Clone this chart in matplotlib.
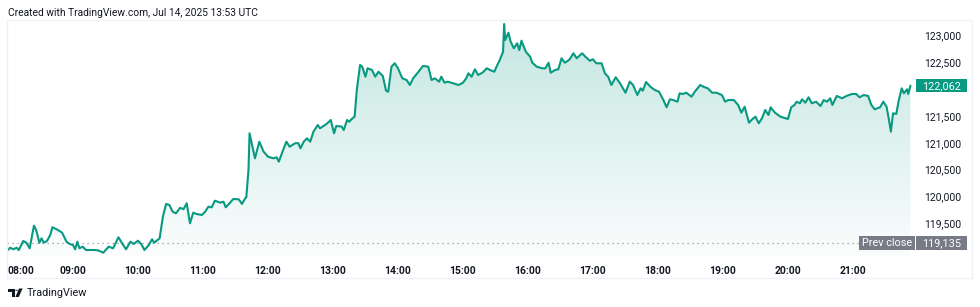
import numpy as np
import matplotlib
matplotlib.use("Agg")
import matplotlib.pyplot as plt
from matplotlib.colors import LinearSegmentedColormap
from matplotlib.patches import Rectangle, Polygon, Circle
from matplotlib.transforms import blended_transform_factory

plt.rcParams["font.family"] = ["Roboto", "DejaVu Sans"]

# minutes after 08:00 local time (UTC+8); last point is 21:53
minutes = [
    0, 2, 5, 8, 10, 14, 17, 20, 24, 26, 29, 31, 33, 36, 39, 41, 45, 50, 54, 57,
    60, 62, 64, 66, 69, 72, 79, 83, 88, 93, 97, 102, 105, 109, 113, 116, 120, 123, 126, 130,
    133, 135, 140, 143, 146, 149, 152, 155, 159, 162, 165, 168, 171, 174, 179, 182, 185, 188, 191, 196,
    199, 201, 205, 208, 213, 216, 219, 220, 222, 223, 226, 228, 232, 236, 240, 245, 248, 250, 254, 257,
    260, 265, 268, 270, 273, 276, 279, 282, 286, 288, 294, 298, 301, 303, 308, 310, 313, 315, 318, 320,
    322, 325, 327, 330, 332, 336, 339, 342, 346, 349, 351, 354, 357, 360, 364, 368, 371, 374, 379, 383,
    388, 391, 394, 398, 400, 403, 406, 411, 416, 420, 423, 425, 428, 431, 434, 438, 442, 445, 449, 451,
    454, 457, 458, 459, 462, 464, 467, 470, 472, 474, 478, 482, 484, 488, 493, 496, 499, 501, 505, 508,
    511, 514, 518, 522, 525, 530, 533, 537, 540, 543, 548, 551, 554, 557, 561, 565, 570, 574, 577, 581,
    584, 586, 589, 593, 597, 601, 605, 608, 611, 614, 618, 620, 623, 626, 631, 634, 639, 642, 646, 650,
    654, 659, 662, 665, 670, 674, 677, 680, 684, 687, 690, 693, 696, 699, 702, 704, 708, 713, 720, 723,
    726, 728, 731, 733, 736, 739, 742, 746, 750, 753, 756, 759, 761, 765, 770, 774, 779, 783, 786, 790,
    794, 797, 800, 805, 808, 811, 813, 815, 817, 820, 822, 825, 827, 830, 831, 833,
]
prices = [
    119001, 119044, 119014, 119044, 119001, 119169, 119137, 119033, 119455, 119374,
    119137, 119219, 119137, 119169, 119281, 119425, 119387, 119324, 119156, 119113,
    119094, 119014, 119156, 119033, 119063, 119001, 119001, 118995, 118951, 119063,
    119033, 119238, 119137, 119014, 119156, 119113, 119175, 119113, 119001, 119094,
    119201, 119137, 119219, 119623, 119860, 119841, 119716, 119686, 119790, 119761,
    119873, 119499, 119697, 119673, 119654, 119716, 119809, 119798, 119921, 119884,
    119902, 119798, 119884, 119953, 119947, 119860, 119966, 119985, 120494, 121179,
    120899, 120712, 121022, 120835, 120742, 120712, 120731, 120649, 120867, 121022,
    120929, 120992, 120995, 120899, 121022, 121085, 121022, 121209, 121334, 121272,
    121352, 121427, 121179, 121315, 121305, 121240, 121427, 121395, 121459, 121489,
    121987, 122453, 122422, 122235, 122392, 122360, 122235, 122328, 122248, 121974,
    121955, 122422, 122485, 122392, 122205, 122173, 122080, 122205, 122328, 122435,
    122422, 122173, 122205, 122142, 122235, 122123, 122142, 122112, 122080, 122123,
    122205, 122298, 122235, 122373, 122267, 122310, 122392, 122360, 122328, 122422,
    122547, 122701, 123218, 122920, 123056, 122888, 122765, 122858, 122733, 122907,
    122701, 122608, 122496, 122422, 122392, 122390, 122496, 122310, 122360, 122373,
    122578, 122496, 122547, 122672, 122578, 122672, 122608, 122533, 122560, 122485,
    122485, 122298, 122235, 122080, 122224, 122112, 121936, 122142, 122080, 121893,
    122018, 121974, 122136, 122048, 121987, 121955, 121800, 121664, 121813, 121800,
    121768, 121925, 121912, 121936, 121862, 121955, 122080, 122048, 122018, 121936,
    121936, 121893, 121768, 121800, 121800, 121707, 121563, 121675, 121377, 121440,
    121489, 121365, 121459, 121614, 121520, 121664, 121563, 121489, 121446, 121664,
    121707, 121768, 121739, 121813, 121750, 121851, 121739, 121768, 121688, 121800,
    121768, 121832, 121707, 121875, 121832, 121875, 121912, 121912, 121851, 121893,
    121875, 121707, 121627, 121664, 121768, 121675, 121459, 121209, 121552, 121539,
    121768, 122018, 121925, 122000, 121912, 122062,
]
prev_close = 119135
hour_labels = ["08:00", "09:00", "10:00", "11:00", "12:00", "13:00", "14:00",
               "15:00", "16:00", "17:00", "18:00", "19:00", "20:00", "21:00"]
price_ticks = [119000, 119500, 120000, 120500, 121000, 121500, 122000, 122500, 123000]
header = "Created with TradingView.com, Jul 14, 2025 13:53 UTC"

GREEN = "#089981"
TEXT = "#131722"
GREY_TAG = "#787b86"

W, H = 980, 307
fig = plt.figure(figsize=(W / 100, H / 100), dpi=100)
fig.patch.set_facecolor("white")


def fx(px):
    return px / W


def fy(py):
    return 1 - py / H


# pane border
fig.patches.append(Rectangle((fx(7), fy(278)), fx(972) - fx(7), (278 - 20) / H,
                             transform=fig.transFigure, fill=False,
                             edgecolor="#eef1f5", lw=1))

ax_top, ax_bot = 20, 256
ax = fig.add_axes([fx(7), fy(ax_bot), fx(912) - fx(7), (ax_bot - ax_top) / H])
ax.set_xlim(-0.9, 834.5)
ax.set_ylim(118889, 123293)
ymin, ymax = ax.get_ylim()
for s in ax.spines.values():
    s.set_visible(False)

# gradient fill under the line
cmap = LinearSegmentedColormap.from_list(
    "tvfill", [(8 / 255, 153 / 255, 129 / 255, 0.02), (8 / 255, 153 / 255, 129 / 255, 0.24)])
grad = np.linspace(0, 1, 256).reshape(-1, 1)
img = ax.imshow(grad, extent=[minutes[0], minutes[-1], ymin, max(prices)],
                origin="lower", aspect="auto", cmap=cmap, zorder=1)
verts = list(zip(minutes, prices)) + [(minutes[-1], ymin), (minutes[0], ymin)]
clip = Polygon(verts, closed=True, transform=ax.transData, facecolor="none", edgecolor="none")
ax.add_patch(clip)
img.set_clip_path(clip)
ax.set_xlim(-0.9, 834.5)
ax.set_ylim(ymin, ymax)

ax.axhline(prev_close, color="#9598a1", lw=0.9, linestyle=(0, (1, 3)), zorder=2)
ax.plot(minutes, prices, color=GREEN, lw=1.5, solid_joinstyle="round", zorder=3)

# x axis
ax.set_xticks([60 * i for i in range(len(hour_labels))])
ax.set_xticklabels(hour_labels, fontsize=7.5, fontweight="semibold", color=TEXT)
ax.tick_params(axis="x", length=0, pad=7)
ax.get_xticklabels()[0].set_horizontalalignment("left")

# y axis on the right, hiding ticks covered by the price tags
last_price = prices[-1]
shown = [v for v in price_ticks
         if abs(v - last_price) > 250 and abs(v - prev_close) > 250]
ax.yaxis.tick_right()
ax.set_yticks(shown)
ax.set_yticklabels([f"{v:,}" for v in shown], fontsize=7.5, color=TEXT)
ax.tick_params(axis="y", length=0, pad=9)

# price tags
px_h = (ymax - ymin) / (ax_bot - ax_top)
ax_w = 912 - 7
tr = blended_transform_factory(ax.transAxes, ax.transData)


def tag(x0, x1, y, h, color, label):
    a0, a1 = (x0 - 7) / ax_w, (x1 - 7) / ax_w
    r = Rectangle((a0, y - h * px_h / 2), a1 - a0, h * px_h, transform=tr,
                  facecolor=color, edgecolor="none", clip_on=False, zorder=5)
    ax.add_patch(r)
    ax.text((a0 + a1) / 2, y, label, transform=tr, ha="center", va="center",
            color="white", fontsize=7.8, clip_on=False, zorder=6)


tag(916, 967, last_price, 13, GREEN, f"{last_price:,}")
tag(859, 915, prev_close, 14, GREY_TAG, "Prev close")
tag(916, 967, prev_close, 14, GREY_TAG, f"{prev_close:,}")

# header and footer
fig.text(fx(8), fy(13), header, fontsize=7.4, color=TEXT, va="center", ha="left")
fig.text(fx(27), fy(293), "TradingView", fontsize=7.8, color=TEXT, va="center", ha="left")

# logo
fig.patches.append(Polygon([(fx(8.3), fy(288.5)), (fx(14.5), fy(288.5)), (fx(14.5), fy(297)),
                            (fx(11.5), fy(297)), (fx(11.5), fy(291.5)), (fx(8.3), fy(291.5))],
                           closed=True, transform=fig.transFigure, facecolor=TEXT, edgecolor="none"))
fig.patches.append(Circle((fx(16.6), fy(290.2)), 1.5 / W, transform=fig.transFigure,
                          facecolor=TEXT, edgecolor="none"))
fig.patches.append(Polygon([(fx(19.0), fy(288.5)), (fx(22.6), fy(288.5)), (fx(18.8), fy(297)),
                            (fx(15.4), fy(297))],
                           closed=True, transform=fig.transFigure, facecolor=TEXT, edgecolor="none"))

fig.savefig("out.png", dpi=100, facecolor="white")
